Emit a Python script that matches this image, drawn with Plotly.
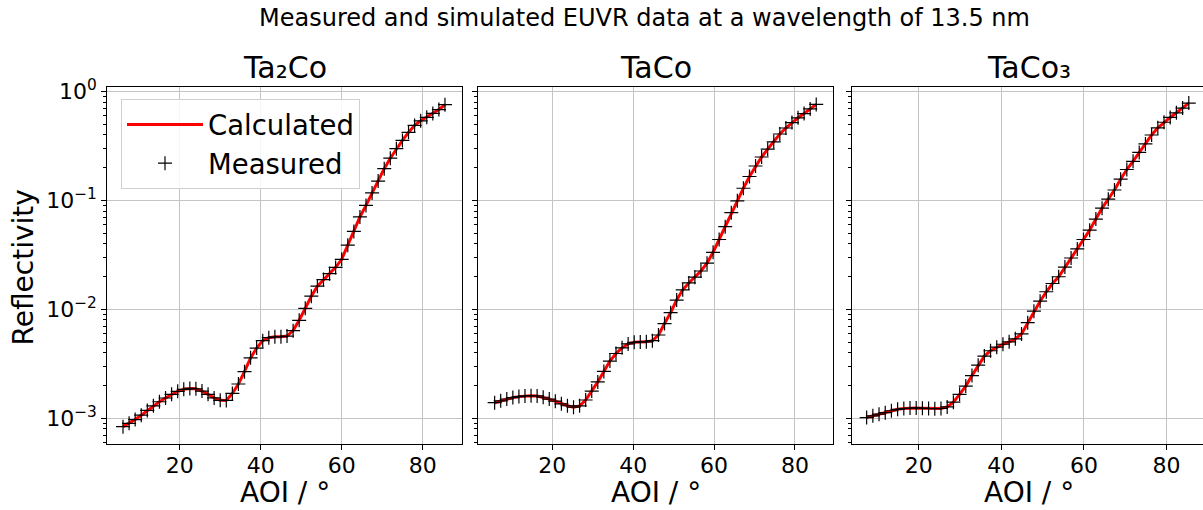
import plotly.graph_objects as go

# ---------------- data ----------------
panel_titles = ["Ta₂Co", "TaCo", "TaCo₃"]
x_tick_values = [20, 40, 60, 80]
y_tick_values = [0.001, 0.01, 0.1, 1]
y_tick_labels = ["10<sup>−3</sup>", "10<sup>−2</sup>", "10<sup>−1</sup>", "10<sup>0</sup>"]

aoi_ta2co = [6.0, 7.5, 9.0, 10.5, 12.0, 13.5, 15.0, 16.5, 18.0, 19.5, 21.0, 22.5, 24.0, 25.5,
             27.0, 28.5, 30.0, 31.5, 33.0, 34.5, 36.0, 37.5, 39.0, 40.5, 42.0, 43.5, 45.0, 46.5,
             48.0, 49.5, 51.0, 52.5, 54.0, 55.5, 57.0, 58.5, 60.0, 61.5, 63.0, 64.5, 66.0, 67.5,
             69.0, 70.5, 72.0, 73.5, 75.0, 76.5, 78.0, 79.5, 81.0, 82.5, 84.0, 85.5]
refl_ta2co = [8.38e-4, 8.99e-4, 9.73e-4, 1.067e-3, 1.180e-3, 1.300e-3, 1.419e-3, 1.535e-3,
              1.660e-3, 1.770e-3, 1.845e-3, 1.879e-3, 1.866e-3, 1.778e-3, 1.660e-3, 1.538e-3,
              1.462e-3, 1.459e-3, 1.690e-3, 2.065e-3, 2.679e-3, 3.589e-3, 4.416e-3, 5.164e-3,
              5.495e-3, 5.598e-3, 5.610e-3, 5.689e-3, 6.383e-3, 7.943e-3, 1.023e-2, 1.324e-2,
              1.633e-2, 1.879e-2, 2.128e-2, 2.432e-2, 2.884e-2, 3.890e-2, 5.200e-2, 7.063e-2,
              9.016e-2, 0.1175, 0.1510, 0.1963, 0.2449, 0.2992, 0.3565, 0.4227, 0.4898, 0.5395,
              0.5808, 0.6310, 0.6839, 0.7586]

aoi_taco = [5.75, 7.25, 8.75, 10.25, 11.75, 13.25, 14.75, 16.25, 17.75, 19.25, 20.75, 22.25,
            23.75, 25.25, 26.75, 28.25, 29.75, 31.25, 32.75, 34.25, 35.75, 37.25, 38.75, 40.25,
            41.75, 43.25, 44.75, 46.25, 47.75, 49.25, 50.75, 52.25, 53.75, 55.25, 56.75, 58.25,
            59.75, 61.25, 62.75, 64.25, 65.75, 67.25, 68.75, 70.25, 71.75, 73.25, 74.75, 76.25,
            77.75, 79.25, 80.75, 82.25, 83.75, 85.25]
refl_taco = [1.390e-3, 1.445e-3, 1.503e-3, 1.549e-3, 1.581e-3, 1.603e-3, 1.614e-3, 1.603e-3,
             1.560e-3, 1.500e-3, 1.435e-3, 1.358e-3, 1.303e-3, 1.265e-3, 1.300e-3, 1.472e-3,
             1.778e-3, 2.158e-3, 2.692e-3, 3.350e-3, 3.936e-3, 4.436e-3, 4.819e-3, 4.989e-3,
             5.023e-3, 5.035e-3, 5.164e-3, 5.821e-3, 7.413e-3, 9.333e-3, 1.219e-2, 1.514e-2,
             1.750e-2, 1.977e-2, 2.254e-2, 2.661e-2, 3.342e-2, 4.385e-2, 5.754e-2, 7.727e-2,
             9.931e-2, 0.1297, 0.1663, 0.2075, 0.2512, 0.2965, 0.3459, 0.4083, 0.4634, 0.5200,
             0.5754, 0.6295, 0.6934, 0.7638]

aoi_taco3 = [7.4, 8.9, 10.4, 11.9, 13.4, 14.9, 16.4, 17.9, 19.4, 20.9, 22.4, 23.9, 25.4, 26.9,
             28.4, 29.9, 31.4, 32.9, 34.4, 35.9, 37.4, 38.9, 40.4, 41.9, 43.4, 44.9, 46.4, 47.9,
             49.4, 50.9, 52.4, 53.9, 55.4, 56.9, 58.4, 59.9, 61.4, 62.9, 64.4, 65.9, 67.4, 68.9,
             70.4, 71.9, 73.4, 74.9, 76.4, 77.9, 79.4, 80.9, 82.4, 83.9, 85.4]
refl_taco3 = [1.016e-3, 1.054e-3, 1.091e-3, 1.125e-3, 1.172e-3, 1.208e-3, 1.230e-3, 1.242e-3,
              1.245e-3, 1.239e-3, 1.230e-3, 1.225e-3, 1.230e-3, 1.271e-3, 1.406e-3, 1.660e-3,
              1.977e-3, 2.466e-3, 3.076e-3, 3.724e-3, 4.169e-3, 4.498e-3, 4.786e-3, 5.035e-3,
              5.370e-3, 5.957e-3, 7.551e-3, 9.638e-3, 1.189e-2, 1.452e-2, 1.730e-2, 1.995e-2,
              2.449e-2, 2.965e-2, 3.597e-2, 4.385e-2, 5.346e-2, 6.761e-2, 8.511e-2, 0.1028,
              0.1250, 0.1570, 0.1928, 0.2291, 0.2767, 0.3311, 0.3999, 0.4656, 0.5236, 0.5794,
              0.6397, 0.7063, 0.7852]

# calculated curves follow the measured points
calc_ta2co = refl_ta2co
calc_taco = refl_taco
calc_taco3 = refl_taco3

panels = [
    (aoi_ta2co, calc_ta2co, refl_ta2co),
    (aoi_taco, calc_taco, refl_taco),
    (aoi_taco3, calc_taco3, refl_taco3),
]

# ---------------- layout geometry ----------------
W, H = 1203, 510
FONT = "DejaVu Sans"
x_domains_px = [(107.3, 461.7), (478.3, 833.3), (851.7, 1203.0)]
x_ranges = [[2.12, 89.63], [1.71, 89.47], [3.78, 88.84]]
y_domain = [1 - 444.3 / H, 1 - 87.3 / H]
y_range = [-3.239, 0.040]
minor_vals = [m * 10.0 ** e for e in (-4, -3, -2, -1) for m in range(2, 10)]

fig = go.Figure()
for i, (xs, calc, meas) in enumerate(panels):
    ax = "" if i == 0 else str(i + 1)
    fig.add_trace(go.Scatter(
        x=xs, y=calc, mode="lines", name="Calculated",
        line=dict(color="red", width=3), showlegend=(i == 0),
        xaxis="x" + ax, yaxis="y" + ax))
    fig.add_trace(go.Scatter(
        x=xs, y=meas, mode="markers", name="Measured",
        marker=dict(symbol="cross-thin", size=10, color="black",
                    line=dict(color="black", width=1.2)),
        showlegend=(i == 0), xaxis="x" + ax, yaxis="y" + ax))

axis_common = dict(showline=True, linecolor="black", linewidth=1, mirror=True,
                   showgrid=True, gridcolor="#c4c4c4", gridwidth=1,
                   ticks="outside", ticklen=5, tickwidth=1, tickcolor="black",
                   tickfont=dict(family=FONT, size=22, color="black"),
                   zeroline=False, automargin=False)

layout = dict(width=W, height=H, margin=dict(l=0, r=0, t=0, b=0),
              paper_bgcolor="white", plot_bgcolor="white",
              font=dict(family=FONT, color="black"))
for i in range(3):
    sfx = "" if i == 0 else str(i + 1)
    d0, d1 = x_domains_px[i]
    layout["xaxis" + sfx] = dict(axis_common, domain=[d0 / W, d1 / W], range=x_ranges[i],
                                 tickmode="array", tickvals=x_tick_values,
                                 ticklabelstandoff=-4, anchor="y" + sfx)
    layout["yaxis" + sfx] = dict(axis_common, domain=y_domain, type="log", range=y_range,
                                 tickmode="array", tickvals=y_tick_values,
                                 ticktext=y_tick_labels, showticklabels=(i == 0),
                                 anchor="x" + sfx, mirror=(i < 2),
                                 minor=dict(tickmode="array", tickvals=minor_vals,
                                            ticks="outside", ticklen=3, tickwidth=1,
                                            tickcolor="black", showgrid=False))

annotations = [dict(text="Measured and simulated EUVR data at a wavelength of 13.5 nm",
                    x=644 / W, y=1 - 18 / H, xref="paper", yref="paper",
                    xanchor="center", yanchor="middle", showarrow=False,
                    font=dict(family=FONT, size=24, color="black")),
               dict(text="Reflectivity", x=22.5 / W, y=1 - 268 / H, xref="paper", yref="paper",
                    xanchor="center", yanchor="middle", showarrow=False, textangle=-90,
                    font=dict(family=FONT, size=28, color="black"))]
for i, t in enumerate(panel_titles):
    d0, d1 = x_domains_px[i]
    cx = (d0 + (d0 + 354.4)) / 2 / W
    annotations.append(dict(text=t, x=cx, y=1 - 68 / H, xref="paper", yref="paper",
                            xanchor="center", yanchor="middle", showarrow=False,
                            font=dict(family=FONT, size=30, color="black")))
    annotations.append(dict(text="AOI / °", x=cx, y=0.0, xref="paper", yref="paper",
                            xanchor="center", yanchor="bottom", showarrow=False,
                            borderpad=0,
                            font=dict(family=FONT, size=28, color="black")))
layout["annotations"] = annotations
layout["legend"] = dict(x=121 / W, y=1 - 99 / H, xanchor="left", yanchor="top",
                        bgcolor="rgba(255,255,255,0.85)", bordercolor="#d0d0d0",
                        borderwidth=1, font=dict(family=FONT, size=27.5, color="black"),
                        itemwidth=76, tracegroupgap=0)
fig.update_layout(**layout)

fig.write_html("out.html", config={"displayModeBar": False})
